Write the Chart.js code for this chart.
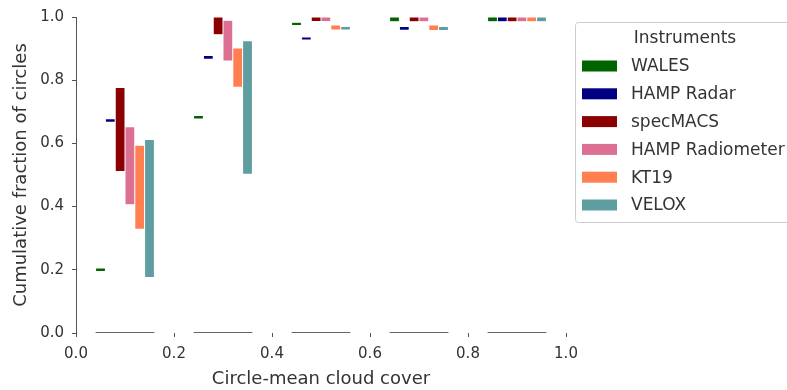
<!DOCTYPE html>
<html>
<head>
<meta charset="utf-8">
<script src="https://cdn.jsdelivr.net/npm/chart.js@4"></script>
<style>
  html, body { margin: 0; padding: 0; background: #fff; }
  #wrap { width: 787px; height: 390px; }
</style>
</head>
<body>
<div id="wrap"><canvas id="chart" width="787" height="390"></canvas></div>
<script>
// cloud cover bins (centre of each group)
var binCenters = [0.1, 0.3, 0.5, 0.7, 0.9];
var binHalfWidth = 0.06;

var instruments = ['WALES', 'HAMP Radar', 'specMACS', 'HAMP Radiometer', 'KT19', 'VELOX'];
var colors = ['#006400', '#000080', '#8b0000', '#db7093', '#ff7f50', '#5f9ea0'];

// lower / upper cumulative fraction for each instrument, per bin
var walesLow = [0.195, 0.677, 0.973, 0.985, 0.985];
var walesHigh = [0.206, 0.688, 0.983, 1.0, 1.0];
var radarLow = [0.667, 0.866, 0.927, 0.958, 0.985];
var radarHigh = [0.678, 0.878, 0.937, 0.970, 1.0];
var specmacsLow = [0.511, 0.944, 0.986, 0.985, 0.985];
var specmacsHigh = [0.777, 1.0, 1.0, 1.0, 1.0];
var radiometerLow = [0.406, 0.861, 0.986, 0.985, 0.985];
var radiometerHigh = [0.653, 0.990, 1.0, 1.0, 1.0];
var kt19Low = [0.328, 0.778, 0.959, 0.957, 0.985];
var kt19High = [0.594, 0.902, 0.975, 0.975, 1.0];
var veloxLow = [0.176, 0.502, 0.959, 0.957, 0.985];
var veloxHigh = [0.612, 0.925, 0.970, 0.970, 1.0];

var lows = [walesLow, radarLow, specmacsLow, radiometerLow, kt19Low, veloxLow];
var highs = [walesHigh, radarHigh, specmacsHigh, radiometerHigh, kt19High, veloxHigh];

var xTicks = [0.0, 0.2, 0.4, 0.6, 0.8, 1.0];
var yTicks = [0.0, 0.2, 0.4, 0.6, 0.8, 1.0];

var textColor = '#333333';
var fontName = "'DejaVu Sans', sans-serif";

var datasets = instruments.map(function (name, i) {
    return {
        type: 'bar',
        label: name,
        data: binCenters.map(function (c, j) {
            return { x: c, y: [lows[i][j], highs[i][j]] };
        }),
        backgroundColor: colors[i],
        borderColor: 'rgba(255,255,255,0.6)',
        borderWidth: 0.5,
        borderSkipped: false,
        categoryPercentage: 0.6,
        barPercentage: 1.0
    };
});

// base lines under each bin
var baseLine = [];
binCenters.forEach(function (c) {
    baseLine.push({ x: c - binHalfWidth, y: 0 });
    baseLine.push({ x: c + binHalfWidth, y: 0 });
    baseLine.push({ x: c + binHalfWidth + 0.01, y: null });
});
datasets.push({
    type: 'line',
    label: 'base',
    data: baseLine,
    borderColor: '#333333',
    borderWidth: 1.4,
    pointRadius: 0,
    spanGaps: false,
    fill: false
});

var boxLegend = {
    id: 'boxLegend',
    afterDraw: function (chart) {
        var ctx = chart.ctx;
        ctx.save();
        var bx = 575.5, by = 22.5, bw = 240, bh = 200;
        ctx.beginPath();
        ctx.roundRect(bx, by, bw, bh, 3);
        ctx.fillStyle = 'rgba(255,255,255,0.8)';
        ctx.fill();
        ctx.strokeStyle = '#cccccc';
        ctx.lineWidth = 1;
        ctx.stroke();

        ctx.font = '17px ' + fontName;
        ctx.fillStyle = textColor;
        ctx.textBaseline = 'middle';
        ctx.textAlign = 'center';
        ctx.fillText('Instruments', 685, 39);

        ctx.textAlign = 'left';
        chart.data.datasets.forEach(function (ds, i) {
            if (ds.type !== 'bar') return;
            var cy = 66 + i * 27.8;
            ctx.fillStyle = ds.backgroundColor;
            ctx.fillRect(582, cy - 5.5, 35, 11);
            ctx.fillStyle = textColor;
            ctx.fillText(ds.label, 631, cy + 1);
        });
        ctx.restore();
    }
};

new Chart(document.getElementById('chart'), {
    type: 'bar',
    data: { datasets: datasets },
    options: {
        responsive: false,
        animation: false,
        layout: { padding: { left: 0, right: 221, top: 14, bottom: 0 } },
        plugins: {
            legend: { display: false },
            tooltip: { enabled: false }
        },
        scales: {
            x: {
                type: 'linear',
                min: 0,
                max: 1,
                offset: false,
                afterBuildTicks: function (scale) {
                    scale.ticks = xTicks.map(function (v) { return { value: v }; });
                },
                afterFit: function (scale) { scale.height = 57; },
                border: { display: false },
                grid: { offset: false, drawOnChartArea: false, drawTicks: true, tickLength: 4, color: '#555555' },
                ticks: {
                    color: textColor,
                    padding: 8,
                    font: { family: fontName, size: 15 },
                    callback: function (v) { return v.toFixed(1); }
                },
                title: {
                    display: true,
                    text: 'Circle-mean cloud cover',
                    color: textColor,
                    font: { family: fontName, size: 18 },
                    padding: { top: 0, bottom: 0 }
                }
            },
            y: {
                type: 'linear',
                min: 0,
                max: 1,
                afterBuildTicks: function (scale) {
                    scale.ticks = yTicks.map(function (v) { return { value: v }; });
                },
                afterFit: function (scale) { scale.width = 76; },
                border: { display: true, color: '#555555', width: 1 },
                grid: { drawOnChartArea: false, drawTicks: true, tickLength: 4, color: '#555555' },
                ticks: {
                    color: textColor,
                    padding: 8,
                    font: { family: fontName, size: 15 },
                    callback: function (v) { return v.toFixed(1); }
                },
                title: {
                    display: true,
                    text: 'Cumulative fraction of circles',
                    color: textColor,
                    font: { family: fontName, size: 18 },
                    padding: { top: 11, bottom: 0 }
                }
            }
        }
    },
    plugins: [boxLegend]
});
</script>
</body>
</html>
